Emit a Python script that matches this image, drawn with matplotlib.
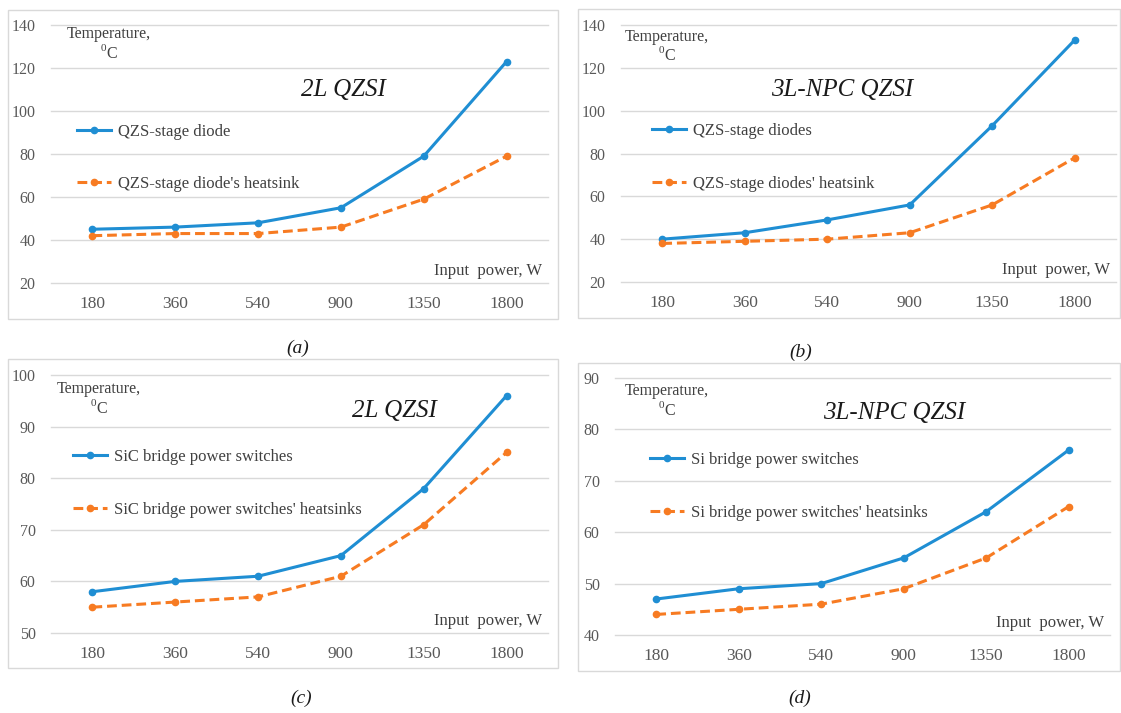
import matplotlib
matplotlib.use("Agg")
import matplotlib.pyplot as plt
from matplotlib.patches import Rectangle

plt.rcParams['font.family'] = ['Liberation Serif', 'DejaVu Serif']
plt.rcParams['mathtext.fontset'] = 'custom'
plt.rcParams['mathtext.rm'] = 'Liberation Serif'

power = ["180", "360", "540", "900", "1350", "1800"]

# (a) 2L QZSI, QZS-stage diode
a_diode = [45, 46, 48, 55, 79, 123]
a_sink = [42, 43, 43, 46, 59, 79]
# (b) 3L-NPC QZSI, QZS-stage diodes
b_diode = [40, 43, 49, 56, 93, 133]
b_sink = [38, 39, 40, 43, 56, 78]
# (c) 2L QZSI, SiC bridge switches
c_sw = [58, 60, 61, 65, 78, 96]
c_sink = [55, 56, 57, 61, 71, 85]
# (d) 3L-NPC QZSI, Si bridge switches
d_sw = [47, 49, 50, 55, 64, 76]
d_sink = [44, 45, 46, 49, 55, 65]

BLUE = "#1F8ED3"
ORANGE = "#F77B22"
W, H = 1121, 713

fig = plt.figure(figsize=(W / 100, H / 100), dpi=100)


def px_axes(left, right, top, bottom):
    return fig.add_axes([left / W, 1 - bottom / H, (right - left) / W, (bottom - top) / H])


def frame(x0, x1, y0, y1):
    fig.patches.append(Rectangle((x0 / W, 1 - y1 / H), (x1 - x0) / W, (y1 - y0) / H,
                                 transform=fig.transFigure, fill=False,
                                 edgecolor="#D9D9D9", lw=1.0))


def panel(ax, s1, s2, lab1, lab2, ylim, step, title, tpos, tempx, tempy, legpos):
    x = range(len(power))
    ax.plot(x, s1, color=BLUE, lw=2.2, marker='o', ms=4.5, label=lab1)
    ax.plot(x, s2, color=ORANGE, lw=2.2, ls=(0, (3.2, 1.6)), marker='o', ms=4.5, label=lab2)
    ax.set_xlim(-0.5, len(power) - 0.5)
    ax.set_ylim(*ylim)
    ax.set_yticks(range(ylim[0], ylim[1] + 1, step))
    ax.set_xticks(list(x))
    ax.set_xticklabels(power)
    ax.grid(axis='y', color="#D9D9D9", lw=1.0)
    for gl in ax.get_ygridlines():
        gl.set_clip_on(False)
    ax.set_axisbelow(True)
    for s in ax.spines.values():
        s.set_visible(False)
    ax.tick_params(length=0, labelcolor="#595959")
    ax.tick_params(axis='y', pad=11, labelsize=11.5)
    ax.tick_params(axis='x', pad=9, labelsize=12.5)
    ax.text(tpos[0], tpos[1], title, transform=ax.transAxes, ha='center', va='center',
            fontsize=18, style='italic', color="#1a1a1a")
    ax.text(tempx, tempy, "Temperature,\n$^{0}$C", transform=ax.transAxes, ha='center',
            va='top', fontsize=11.5, color="#404040", linespacing=1.1)
    ax.text(0.988, 0.045, "Input  power, W", transform=ax.transAxes, ha='right',
            va='center', fontsize=12, color="#404040")
    ax.legend(loc='upper left', bbox_to_anchor=legpos, frameon=False, fontsize=12,
              handlelength=2.05, handletextpad=0.42, labelspacing=2.2, borderpad=0,
              borderaxespad=0, labelcolor="#404040")


frame(8, 558, 10, 319)
frame(578, 1120, 9, 318)
frame(8, 558, 359, 668)
frame(578, 1120, 363, 671)

ax_a = px_axes(51, 548, 25, 283)
panel(ax_a, a_diode, a_sink, "QZS-stage diode", "QZS-stage diode's heatsink",
      (20, 140), 20, "2L QZSI", (0.588, 0.748), 0.117, 0.995, (0.052, 0.618))

ax_b = px_axes(621, 1116, 25, 282)
panel(ax_b, b_diode, b_sink, "QZS-stage diodes", "QZS-stage diodes' heatsink",
      (20, 140), 20, "3L-NPC QZSI", (0.446, 0.747), 0.093, 0.985, (0.063, 0.618))

ax_c = px_axes(51, 548, 375, 633)
panel(ax_c, c_sw, c_sink, "SiC bridge power switches", "SiC bridge power switches' heatsinks",
      (50, 100), 10, "2L QZSI", (0.692, 0.86), 0.097, 0.975, (0.044, 0.713))

ax_d = px_axes(615, 1110, 378, 635)
panel(ax_d, d_sw, d_sink, "Si bridge power switches", "Si bridge power switches' heatsinks",
      (40, 90), 10, "3L-NPC QZSI", (0.564, 0.864), 0.105, 0.98, (0.071, 0.712))

for lab, (cx, cy) in zip(["(a)", "(b)", "(c)", "(d)"],
                         [(298, 348), (801, 352), (301, 698), (800, 698)]):
    fig.text(cx / W, 1 - cy / H, lab, ha='center', va='center', fontsize=14,
             style='italic', color="#1a1a1a")

fig.savefig("out.png", dpi=100, facecolor="white")
